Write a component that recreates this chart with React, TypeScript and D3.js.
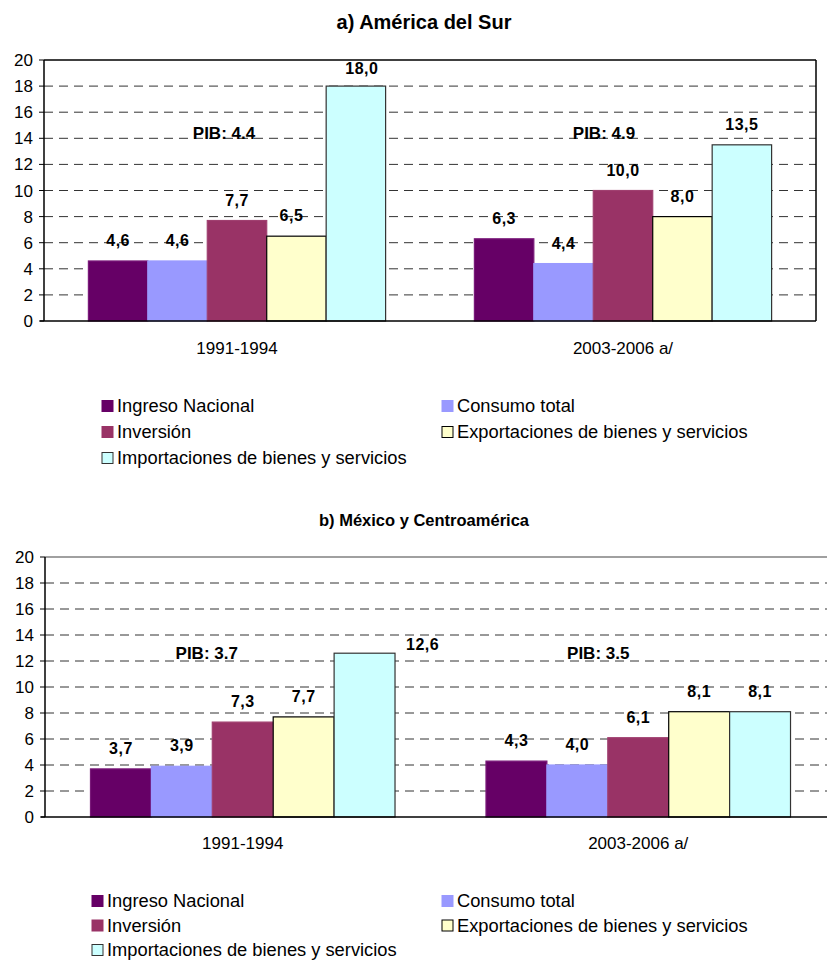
import React from "react";
import * as d3 from "d3";

// Categories and series
const categories = ["1991-1994", "2003-2006 a/"];
const seriesNames = [
  "Ingreso Nacional",
  "Consumo total",
  "Inversión",
  "Exportaciones de bienes y servicios",
  "Importaciones de bienes y servicios",
];

// a) América del Sur — one array per series, one value per period
const surIngreso = [4.6, 6.3];
const surConsumo = [4.6, 4.4];
const surInversion = [7.7, 10.0];
const surExport = [6.5, 8.0];
const surImport = [18.0, 13.5];
const surPib = [4.4, 4.9];

// b) México y Centroamérica
const mexIngreso = [3.7, 4.3];
const mexConsumo = [3.9, 4.0];
const mexInversion = [7.3, 6.1];
const mexExport = [7.7, 8.1];
const mexImport = [12.6, 8.1];
const mexPib = [3.7, 3.5];

const yTicks = [0, 2, 4, 6, 8, 10, 12, 14, 16, 18, 20];

const fills = ["#660066", "#9999FF", "#993366", "#FFFFCC", "#CCFFFF"];
const strokes = ["#7a1a7a", "#9999FF", "#a04070", "#000000", "#333333"];
const legendStrokes = ["#660066", "#9999FF", "#993366", "#000000", "#333333"];

const FONT = "Arial, 'Liberation Sans', sans-serif";

type Nudge = { s: number; c: number; dx: number; dy: number };

type ChartProps = {
  title: string;
  titleY: number;
  titleSize: number;
  top: number;
  bottom: number;
  left: number;
  right: number;
  values: number[][];
  pib: number[];
  pibLevel: number;
  pibDx: number[];
  nudges: Nudge[];
  catLabelY: number;
  legendTop: number;
  legendStep: number;
  legendX1: number;
  legendX2: number;
  topBorderColor: string;
  rightBorder: boolean;
};

function fmt(v: number) {
  return d3.format(".1f")(v).replace(".", ",");
}

function Chart(p: ChartProps) {
  const y = d3.scaleLinear().domain([0, 20]).range([p.bottom, p.top]);
  const x0 = d3
    .scaleBand<string>()
    .domain(categories)
    .range([p.left, p.right])
    .paddingInner(0.23)
    .paddingOuter(0.115);
  const x1 = d3
    .scaleBand<string>()
    .domain(seriesNames)
    .range([0, x0.bandwidth()]);

  const legendRows = [
    [0, 1],
    [2, 3],
    [4],
  ];

  return (
    <g>
      <text
        x={424}
        y={p.titleY}
        textAnchor="middle"
        fontFamily={FONT}
        fontWeight="bold"
        fontSize={p.titleSize}
      >
        {p.title}
      </text>

      {/* dashed gridlines */}
      {yTicks
        .filter((t) => t > 0 && t < 20)
        .map((t) => (
          <line
            key={t}
            x1={p.left}
            x2={p.right}
            y1={y(t)}
            y2={y(t)}
            stroke="#333"
            strokeWidth={1}
            strokeDasharray="9,6"
          />
        ))}

      {/* plot frame */}
      <line x1={p.left} x2={p.right} y1={p.top} y2={p.top} stroke={p.topBorderColor} strokeWidth={1.5} />
      {p.rightBorder && (
        <line x1={p.right} x2={p.right} y1={p.top} y2={p.bottom} stroke="#000" strokeWidth={1.5} />
      )}

      {/* bars */}
      {categories.map((c, ci) =>
        seriesNames.map((s, si) => {
          const v = p.values[si][ci];
          const bx = (x0(c) as number) + (x1(s) as number);
          return (
            <rect
              key={c + s}
              x={bx}
              y={y(v)}
              width={x1.bandwidth()}
              height={y(0) - y(v)}
              fill={fills[si]}
              stroke={strokes[si]}
              strokeWidth={1.2}
            />
          );
        })
      )}

      {/* value labels */}
      {categories.map((c, ci) =>
        seriesNames.map((s, si) => {
          const v = p.values[si][ci];
          const n = p.nudges.find((k) => k.s === si && k.c === ci);
          const cx = (x0(c) as number) + (x1(s) as number) + x1.bandwidth() / 2;
          return (
            <text
              key={"l" + c + s}
              x={cx + (n ? n.dx : 0)}
              y={y(v) - 15 + (n ? n.dy : 0)}
              textAnchor="middle"
              fontFamily={FONT}
              fontWeight="bold"
              fontSize={16}
              letterSpacing={0.5}
            >
              {fmt(v)}
            </text>
          );
        })
      )}

      {/* PIB annotations */}
      {categories.map((c, ci) => (
        <text
          key={"pib" + c}
          x={(x0(c) as number) + x0.bandwidth() / 2 + p.pibDx[ci]}
          y={y(p.pibLevel) + 6}
          textAnchor="middle"
          fontFamily={FONT}
          fontWeight="bold"
          fontSize={17}
        >
          {"PIB: " + p.pib[ci].toFixed(1)}
        </text>
      ))}

      {/* axes */}
      <line x1={p.left} x2={p.left} y1={p.top} y2={p.bottom} stroke="#000" strokeWidth={1.5} />
      <line x1={p.left - 4} x2={p.right} y1={p.bottom} y2={p.bottom} stroke="#000" strokeWidth={1.5} />
      {yTicks.map((t) => (
        <g key={"t" + t}>
          <line x1={p.left - 5} x2={p.left} y1={y(t)} y2={y(t)} stroke="#000" strokeWidth={1} />
          <text
            x={p.left - 11}
            y={y(t) + 6}
            textAnchor="end"
            fontFamily={FONT}
            fontSize={17}
          >
            {t}
          </text>
        </g>
      ))}
      {categories.map((c) => (
        <text
          key={"c" + c}
          x={(x0(c) as number) + x0.bandwidth() / 2}
          y={p.catLabelY}
          textAnchor="middle"
          fontFamily={FONT}
          fontSize={17}
        >
          {c}
        </text>
      ))}

      {/* legend */}
      {legendRows.map((row, ri) =>
        row.map((si, k) => {
          const lx = k === 0 ? p.legendX1 : p.legendX2;
          const ly = p.legendTop + ri * p.legendStep;
          return (
            <g key={"lg" + si}>
              <rect
                x={lx}
                y={ly - 5.5}
                width={11}
                height={11}
                fill={fills[si]}
                stroke={legendStrokes[si]}
                strokeWidth={1}
              />
              <text
                x={lx + 15}
                y={ly + 6}
                fontFamily={FONT}
                fontSize={18.3}
              >
                {seriesNames[si]}
              </text>
            </g>
          );
        })
      )}
    </g>
  );
}

export default function App() {
  return (
    <div style={{ position: "absolute", left: 0, top: 0 }}>
      <svg width={827} height={960} style={{ display: "block", background: "#fff" }}>
        <Chart
          title="a) América del Sur"
          titleY={29}
          titleSize={20}
          top={60}
          bottom={321}
          left={44}
          right={816}
          values={[surIngreso, surConsumo, surInversion, surExport, surImport]}
          pib={surPib}
          pibLevel={14.4}
          pibDx={[-13, -19]}
          nudges={[
            { s: 4, c: 0, dx: 6, dy: 3 },
            { s: 3, c: 0, dx: -5, dy: 0 },
          ]}
          catLabelY={354}
          legendTop={406}
          legendStep={26}
          legendX1={102}
          legendX2={442}
          topBorderColor="#000"
          rightBorder={true}
        />
        <Chart
          title="b) México y Centroamérica"
          titleY={526}
          titleSize={16.5}
          top={557}
          bottom={817}
          left={45}
          right={836}
          values={[mexIngreso, mexConsumo, mexInversion, mexExport, mexImport]}
          pib={mexPib}
          pibLevel={12.6}
          pibDx={[-36, -40]}
          nudges={[{ s: 4, c: 0, dx: 58, dy: 12 }]}
          catLabelY={849}
          legendTop={901}
          legendStep={24.5}
          legendX1={92}
          legendX2={442}
          topBorderColor="#808080"
          rightBorder={false}
        />
      </svg>
    </div>
  );
}
